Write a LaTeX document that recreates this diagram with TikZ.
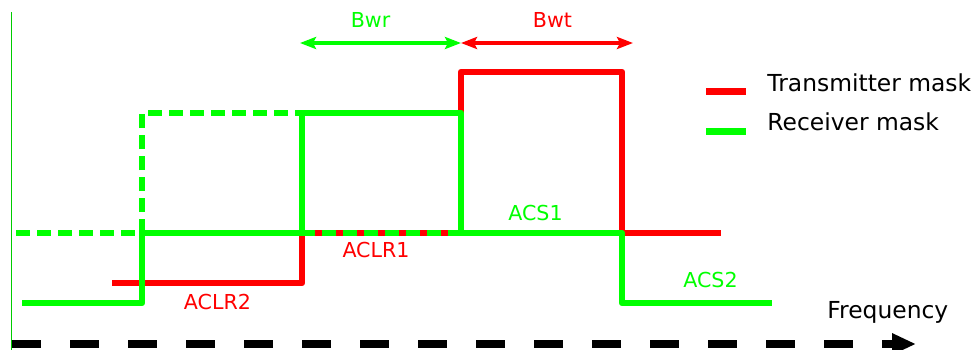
\documentclass[tikz,border=0pt]{standalone}
\usepackage{fontspec}
\setmainfont{DejaVu Sans}
\usetikzlibrary{arrows.meta}
\definecolor{mred}{RGB}{255,0,0}
\definecolor{mgreen}{RGB}{0,255,0}
\begin{document}
\begin{tikzpicture}[x=0.5pt,y=-0.5pt,
  mask/.style={line width=3.3pt, line join=round},
  rdash/.style={mask, dash pattern=on 7pt off 3.5pt},
  bw/.style={line width=2pt, {Stealth[length=8pt,width=6pt,inset=1.5pt]}-{Stealth[length=8pt,width=6pt,inset=1.5pt]}},
  lbl/.style={inner sep=0pt, anchor=base, font=\fontsize{10.3pt}{12pt}\selectfont},
  big/.style={inner sep=0pt, anchor=base west, font=\fontsize{11.7pt}{14pt}\selectfont},
  legline/.style={line width=3.5pt}]
\useasboundingbox (0,0) rectangle (979,349);

% vertical axis
\coordinate (ytop) at (11.5,12);
\coordinate (ybot) at (11.5,352);
\draw[mgreen!80!black, line width=0.8pt] (ytop) -- (ybot);

% frequency axis
\coordinate (xs) at (12,344);
\coordinate (xe) at (916,344);
\draw[black, line width=3.75pt, dash pattern=on 14.5pt off 14.5pt,
  -{Triangle[length=12pt,width=10pt]}] (xs) -- (xe);

% transmitter mask
\draw[mask, mred] (112,283) -- (302,283) -- (302,233) -- (461,233)
  -- (461,72) -- (622,72) -- (622,233) -- (721,233);

% adjacent receiver mask (dashed)
\draw[rdash, mgreen] (16,233) -- (142,233) -- (142,113) -- (302,113)
  -- (302,233) -- (461,233);

% receiver mask
\draw[mask, mgreen] (22,303) -- (142,303) -- (142,233) -- (302,233)
  -- (302,113) -- (461,113) -- (461,233) -- (622,233) -- (622,303) -- (772,303);

% bandwidth arrows
\coordinate (bwrL) at (300,43);
\coordinate (bwM) at (461,43);
\coordinate (bwtR) at (633,43);
\draw[bw, mgreen] (bwrL) -- (bwM);
\draw[bw, mred] (bwM) -- (bwtR);
\node[lbl, text=mgreen] (bwr) at (370.5,27) {Bwr};
\node[lbl, text=mred] (bwt) at (552.5,27) {Bwt};

% labels
\node[lbl, text=mgreen] (acs1) at (535.5,220) {ACS1};
\node[lbl, text=mred] (aclr1) at (376,257) {ACLR1};
\node[lbl, text=mred] (aclr2) at (217.5,309) {ACLR2};
\node[lbl, text=mgreen] (acs2) at (710.5,287) {ACS2};
\node[big] (freq) at (827,318) {Frequency};

% legend
\coordinate (l1a) at (706,91);
\coordinate (l1b) at (746,91);
\coordinate (l2a) at (706,131);
\coordinate (l2b) at (746,131);
\draw[legline, mred] (l1a) -- (l1b);
\draw[legline, mgreen] (l2a) -- (l2b);
\node[big] (tx) at (767,91) {Transmitter mask};
\node[big] (rx) at (767,130) {Receiver mask};
\end{tikzpicture}
\end{document}
